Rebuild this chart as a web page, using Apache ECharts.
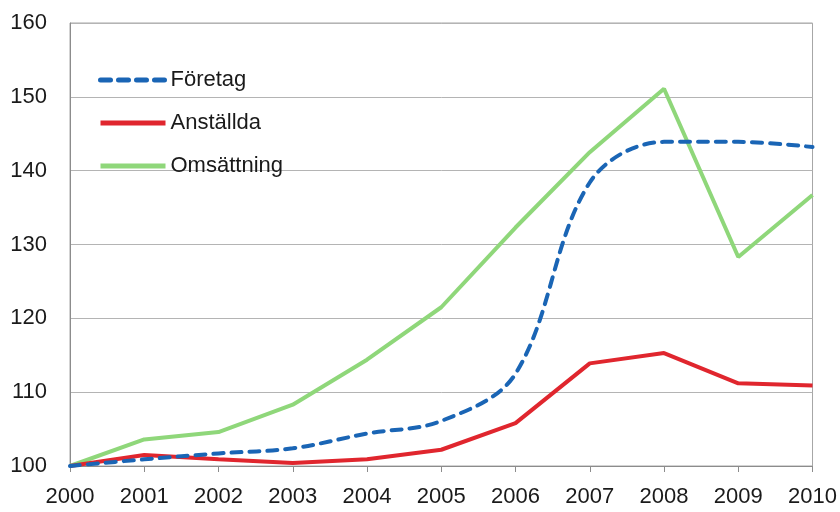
<!DOCTYPE html>
<html>
<head>
<meta charset="utf-8">
<script src="https://cdn.jsdelivr.net/npm/echarts@6/dist/echarts.min.js"></script>
<style>
html,body{margin:0;padding:0;background:#fff;}
#chart{width:840px;height:512px;}
</style>
</head>
<body>
<div id="chart"></div>
<script>
var years = ['2000','2001','2002','2003','2004','2005','2006','2007','2008','2009','2010'];
var foretag = [100, 100.9, 101.7, 102.4, 104.4, 106.1, 112.5, 138.4, 143.9, 143.9, 143.2];
var anstallda = [100, 101.5, 100.9, 100.4, 100.9, 102.2, 105.8, 113.9, 115.3, 111.2, 110.9];
var omsattning = [100, 103.6, 104.6, 108.3, 114.4, 121.5, 132.3, 142.5, 151.1, 128.3, 136.7];
var yTicks = [100, 110, 120, 130, 140, 150, 160];

var chart = echarts.init(document.getElementById('chart'), null, {renderer: 'canvas'});
var font = 'Liberation Sans, Arial, sans-serif';
chart.setOption({
  animation: false,
  backgroundColor: '#ffffff',
  grid: {left: 70, right: 24, top: 23, bottom: 46, show: true, borderColor: '#a6a6a6', borderWidth: 1},
  legend: {
    orient: 'vertical', left: 93, top: 64,
    itemWidth: 65, itemHeight: 20, itemGap: 21,
    itemStyle: {opacity: 0},
    lineStyle: {width: 5},
    textStyle: {fontFamily: font, fontSize: 22, lineHeight: 20, color: '#1a1a1a'},
    data: ['Företag', 'Anställda', 'Omsättning']
  },
  xAxis: {
    type: 'category', data: years, boundaryGap: false,
    axisLine: {lineStyle: {color: '#8c8c8c', width: 1}},
    axisTick: {show: true, length: 6, lineStyle: {color: '#8c8c8c'}},
    axisLabel: {fontFamily: font, fontSize: 22, color: '#1a1a1a', margin: 20, interval: 0},
    splitLine: {show: false}
  },
  yAxis: {
    type: 'value', min: yTicks[0], max: yTicks[yTicks.length-1], interval: 10,
    axisLine: {show: true, lineStyle: {color: '#8c8c8c', width: 1}},
    axisTick: {show: false},
    axisLabel: {fontFamily: font, fontSize: 22, color: '#1a1a1a', margin: 23},
    splitLine: {show: true, lineStyle: {color: '#b4b4b4', width: 1}}
  },
  series: [
    {name: 'Företag', type: 'line', data: foretag, symbol: 'none', smooth: 0.35,
     lineStyle: {color: '#1a65b5', width: 4, type: [10, 8], cap: 'round'}, itemStyle: {color: '#1a65b5'}, z: 3},
    {name: 'Anställda', type: 'line', data: anstallda, symbol: 'none',
     lineStyle: {color: '#e0262e', width: 4}, itemStyle: {color: '#e0262e'}, z: 2},
    {name: 'Omsättning', type: 'line', data: omsattning, symbol: 'none',
     lineStyle: {color: '#8fd77a', width: 4}, itemStyle: {color: '#8fd77a'}, z: 1}
  ]
});
</script>
</body>
</html>
